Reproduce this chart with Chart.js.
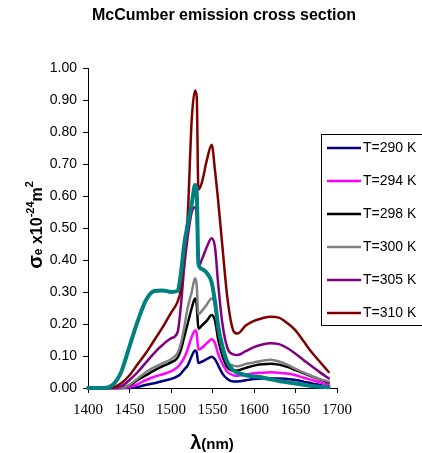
<!DOCTYPE html>
<html>
<head>
<meta charset="utf-8">
<script src="https://cdn.jsdelivr.net/npm/chart.js@4.4.0/dist/chart.umd.min.js"></script>
<style>
html,body{margin:0;padding:0;background:#fff;}
#wrap{width:422px;height:453px;position:relative;}
</style>
</head>
<body>
<div id="wrap"><canvas id="c" width="422" height="453"></canvas></div>
<script>
// ---- data ----
const wavelengths = [1400,1410,1420,1430,1440,1450,1460,1470,1480,1490,1500,1508,1512,1516,1520,1525,1529,1531,1533,1537,1543,1549,1553,1557,1562,1568,1575,1580,1590,1600,1610,1620,1630,1640,1650,1660,1670,1680,1690];

const t290 = [0,0,0,0,0,0, 0.003,0.010,0.015,0.022,0.028, 0.037,0.045,0.058,0.070,0.100,0.117,0.110,0.078, 0.082,0.090,0.098,0.090,0.070,0.045,0.028,0.020,0.020, 0.024,0.028,0.030,0.030,0.030,0.028,0.025,0.020,0.014,0.009,0.004];
const t294 = [0,0,0,0,0,0.003, 0.012,0.025,0.035,0.043,0.052, 0.065,0.078,0.095,0.120,0.160,0.180,0.170,0.120, 0.125,0.140,0.152,0.140,0.105,0.075,0.050,0.040,0.038, 0.042,0.046,0.048,0.049,0.048,0.045,0.040,0.032,0.025,0.017,0.010];
const t298 = [0,0,0,0,0,0.008, 0.025,0.040,0.055,0.068,0.080, 0.095,0.120,0.160,0.200,0.250,0.280,0.260,0.185, 0.195,0.210,0.228,0.210,0.150,0.100,0.065,0.055,0.055, 0.063,0.070,0.074,0.076,0.073,0.066,0.056,0.046,0.036,0.026,0.017];
const t300 = [0,0,0,0,0,0.010, 0.030,0.050,0.065,0.078,0.090, 0.110,0.140,0.190,0.250,0.300,0.343,0.320,0.230, 0.240,0.260,0.280,0.260,0.180,0.120,0.080,0.070,0.068, 0.075,0.080,0.085,0.088,0.083,0.073,0.060,0.048,0.037,0.027,0.020];
const t305 = [0,0,0,0,0.005,0.025, 0.050,0.080,0.110,0.135,0.155, 0.175,0.260,0.380,0.470,0.550,0.565,0.540,0.380, 0.400,0.440,0.468,0.440,0.320,0.200,0.125,0.105,0.103, 0.115,0.128,0.136,0.140,0.137,0.125,0.107,0.087,0.067,0.048,0.030];
const t310 = [0,0,0,0.002,0.015,0.040, 0.075,0.110,0.150,0.190,0.235, 0.270,0.310,0.420,0.530,0.840,0.930,0.910,0.620, 0.640,0.710,0.760,0.680,0.580,0.440,0.280,0.180,0.170, 0.195,0.210,0.218,0.223,0.220,0.203,0.180,0.145,0.110,0.080,0.050];
const tExtra = [0,0,0,0.010,0.050,0.130, 0.210,0.275,0.303,0.305,0.300, 0.303,0.360,0.450,0.510,0.575,0.634,0.610,0.390, 0.372,0.360,0.330,0.270,0.190,0.130,0.080,0.055,0.048, 0.040,0.036,0.033,0.027,0.022,0.018,0.014,0.010,0.006,0.004,0.002];

const seriesLabels = ['T=290 K','T=294 K','T=298 K','T=300 K','T=305 K','T=310 K'];
const xTicks = [1400,1450,1500,1550,1600,1650,1700];
const yTicks = [0,0.1,0.2,0.3,0.4,0.5,0.6,0.7,0.8,0.9,1.0];

const titleText = 'McCumber emission cross section';

function pts(arr){ return arr.map((v,i)=>({x:wavelengths[i], y:v})); }

const series = [
  {label:seriesLabels[0], data:t290, color:'#000080', w:2.5, order:6},
  {label:seriesLabels[1], data:t294, color:'#FF00FF', w:2.5, order:5},
  {label:seriesLabels[2], data:t298, color:'#000000', w:2.5, order:4},
  {label:seriesLabels[3], data:t300, color:'#808080', w:2.5, order:3},
  {label:seriesLabels[4], data:t305, color:'#800080', w:2.5, order:2},
  {label:seriesLabels[5], data:t310, color:'#800000', w:2.5, order:1},
  {label:'', data:tExtra, color:'#008080', w:4, order:0}
];

const datasets = series.map(s=>({
  label:s.label, data:pts(s.data), borderColor:s.color, backgroundColor:s.color,
  borderWidth:s.w, pointRadius:0, fill:false, order:s.order,
  cubicInterpolationMode:'monotone', borderJoinStyle:'round', borderCapStyle:'round', clip:false
}));

const textPlugin = {
  id:'texts',
  afterDraw(chart){
    const ctx = chart.ctx;
    ctx.save();
    // title
    ctx.fillStyle = '#000';
    ctx.font = 'bold 16px "Liberation Sans", Arial, sans-serif';
    ctx.textAlign = 'center';
    ctx.textBaseline = 'middle';
    ctx.fillText(titleText, 224, 16);

    // x axis title: λ(nm)
    ctx.textBaseline = 'alphabetic';
    ctx.textAlign = 'left';
    const f1 = 'bold 20px "Liberation Sans", Arial, sans-serif';
    const f2 = 'bold 15px "Liberation Sans", Arial, sans-serif';
    ctx.font = f1; const wl = ctx.measureText('λ').width;
    ctx.font = f2; const wn = ctx.measureText('(nm)').width;
    let sx = 212 - (wl+wn)/2;
    ctx.font = f1; ctx.fillText('λ', sx, 449);
    ctx.font = f2; ctx.fillText('(nm)', sx+wl, 449);

    // y axis title: σe x10^-24 m^2 (rotated)
    ctx.save();
    ctx.translate(42, 225);
    ctx.rotate(-Math.PI/2);
    const parts = [
      {t:'σ', f:'bold 20px "Liberation Sans", Arial, sans-serif', dy:0},
      {t:'e', f:'bold 12px "Liberation Sans", Arial, sans-serif', dy:0},
      {t:' x10', f:'bold 16px "Liberation Sans", Arial, sans-serif', dy:0},
      {t:'-24', f:'bold 11px "Liberation Sans", Arial, sans-serif', dy:-8},
      {t:'m', f:'bold 16px "Liberation Sans", Arial, sans-serif', dy:0},
      {t:'2', f:'bold 11px "Liberation Sans", Arial, sans-serif', dy:-9}
    ];
    let tw = 0;
    parts.forEach(p=>{ ctx.font=p.f; p.w=ctx.measureText(p.t).width; tw+=p.w; });
    let px = -tw/2;
    parts.forEach(p=>{ ctx.font=p.f; ctx.fillText(p.t, px, p.dy); px+=p.w; });
    ctx.restore();

    // legend
    ctx.strokeStyle = '#000';
    ctx.lineWidth = 1;
    ctx.strokeRect(321.5, 134.5, 120, 191);
    ctx.font = '14px "Liberation Sans", Arial, sans-serif';
    ctx.textBaseline = 'middle';
    let row = 0;
    chart.data.datasets.forEach(ds=>{
      if(!ds.label) return;
      const y = 148 + row*33;
      ctx.strokeStyle = ds.borderColor;
      ctx.lineWidth = 2.5;
      ctx.beginPath(); ctx.moveTo(327, y); ctx.lineTo(361, y); ctx.stroke();
      ctx.fillStyle = '#000';
      ctx.fillText(ds.label, 363, y+0.5);
      row++;
    });
    ctx.restore();
  }
};

new Chart(document.getElementById('c'), {
  type:'line',
  data:{datasets},
  options:{
    responsive:false, animation:false, devicePixelRatio:1,
    layout:{padding:{top:68,right:85,left:0,bottom:0}},
    plugins:{legend:{display:false}, title:{display:false}, tooltip:{enabled:false}},
    scales:{
      x:{type:'linear', min:1400, max:1700,
        afterFit(s){ s.height = 65; },
        afterBuildTicks(s){ s.ticks = xTicks.map(v=>({value:v})); },
        grid:{display:true, drawOnChartArea:false, drawTicks:true, tickLength:5, color:'#000', lineWidth:1},
        border:{display:true, color:'#000', width:1},
        ticks:{color:'#000', padding:8, maxRotation:0, autoSkip:false,
          font:{family:'"Liberation Serif", "Times New Roman", serif', size:15},
          callback:(v)=>String(v)}
      },
      y:{type:'linear', min:0, max:1,
        afterFit(s){ s.width = 88; },
        afterBuildTicks(s){ s.ticks = yTicks.map(v=>({value:v})); },
        grid:{display:true, drawOnChartArea:false, drawTicks:true, tickLength:5, color:'#000', lineWidth:1},
        border:{display:true, color:'#000', width:1},
        ticks:{color:'#000', padding:6, autoSkip:false,
          font:{family:'"Liberation Sans", Arial, sans-serif', size:14},
          callback:(v)=>Number(v).toFixed(2)}
      }
    }
  },
  plugins:[textPlugin]
});
</script>
</body>
</html>
